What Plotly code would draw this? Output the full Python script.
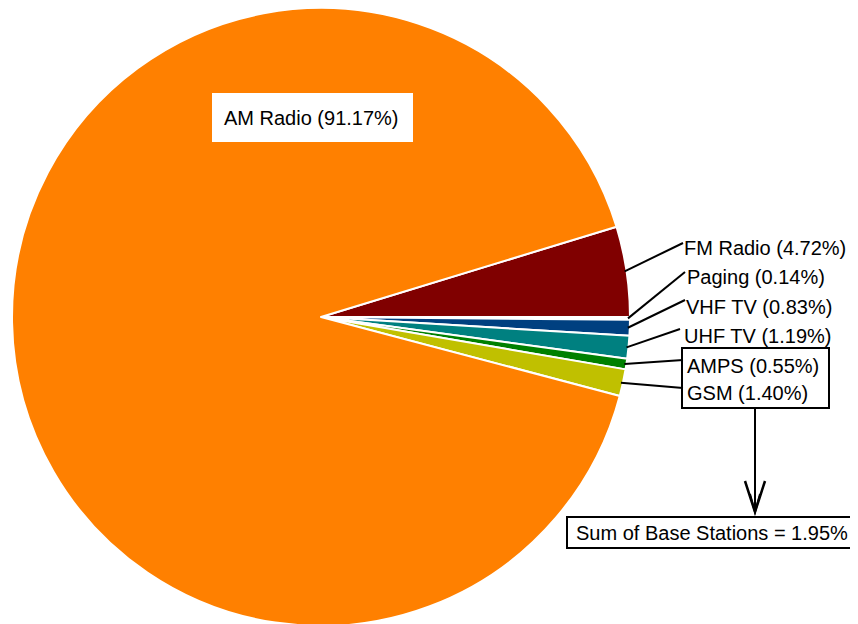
import math
import plotly.graph_objects as go

# ---- data ----
labels = ["FM Radio", "Paging", "VHF TV", "UHF TV", "AMPS", "GSM", "AM Radio"]
shares = [4.72, 0.14, 0.83, 1.19, 0.55, 1.40, 91.17]
colors = ["#800000", "#FFFFFF", "#004080", "#008080", "#008000", "#C0C000", "#FF8000"]
sum_text = "Sum of Base Stations = 1.95%"

W, H = 858, 624
OFF = 8  # page body margin
FONT = "Liberation Sans, Arial, Helvetica, sans-serif"

def px(x):
    return (x - OFF) / W

def py(y):
    return 1 - (y - OFF) / H

# pie geometry (screen pixels)
dom_x0, dom_x1 = 12, 630
dom_y0, dom_y1 = 8, 626
cx = (dom_x0 + dom_x1) / 2
cy = (dom_y0 + dom_y1) / 2
R = min(dom_x1 - dom_x0, dom_y1 - dom_y0) / 2

total = sum(shares)
start_deg = 360 * shares[0] / total  # FM Radio ends exactly at 3 o'clock
rotation = 90 - start_deg

fig = go.Figure(go.Pie(
    labels=labels,
    values=shares,
    sort=False,
    direction="clockwise",
    rotation=rotation,
    marker=dict(colors=colors, line=dict(color="white", width=2)),
    textinfo="none",
    hoverinfo="label+percent",
    showlegend=False,
    domain=dict(x=[px(dom_x0), px(dom_x1)], y=[max(0, py(dom_y1)), py(dom_y0)]),
))

shapes = []
annotations = []

# AM Radio label box
shapes.append(dict(type="rect", xref="paper", yref="paper",
                   x0=px(212), x1=px(413), y0=py(142), y1=py(93),
                   fillcolor="white", line=dict(width=0)))
annotations.append(dict(xref="paper", yref="paper", x=px(311), y=py(118),
                        text=f"{labels[-1]} ({shares[-1]:.2f}%)", showarrow=False,
                        xanchor="center", yanchor="middle",
                        font=dict(family=FONT, size=20, color="black")))

# small slice labels with leader lines
label_pos = [(684, 248), (687, 277), (686, 307), (684, 336), (687, 366), (687, 393)]
leader_end = [(683, 243), (685, 272), (685, 300), (680, 329), (683, 360), (683, 388)]
cum = 0.0
for i in range(6):
    v = shares[i]
    mid = start_deg - 360 * (cum + v / 2) / total
    cum += v
    sx = cx + R * math.cos(math.radians(mid))
    sy = cy - R * math.sin(math.radians(mid))
    ex, ey = leader_end[i]
    shapes.append(dict(type="line", xref="paper", yref="paper",
                       x0=px(sx - 2), y0=py(sy), x1=px(ex), y1=py(ey),
                       line=dict(color="black", width=2)))
    lx, ly = label_pos[i]
    annotations.append(dict(xref="paper", yref="paper", x=px(lx - 2), y=py(ly),
                            text=f"{labels[i]} ({v:.2f}%)", showarrow=False,
                            xanchor="left", yanchor="middle",
                            font=dict(family=FONT, size=20, color="black")))

# box around base-station labels
shapes.append(dict(type="rect", xref="paper", yref="paper",
                   x0=px(682), x1=px(829), y0=py(408), y1=py(348),
                   line=dict(color="black", width=2)))
# arrow down to the sum box
shapes.append(dict(type="line", xref="paper", yref="paper",
                   x0=px(755), y0=py(408), x1=px(755), y1=py(512),
                   line=dict(color="black", width=2)))
shapes.append(dict(type="path", xref="paper", yref="paper",
                   path=f"M {px(745)},{py(481)} L {px(755)},{py(512)} L {px(765)},{py(481)}",
                   line=dict(color="black", width=2.5)))
shapes.append(dict(type="path", xref="paper", yref="paper",
                   path=f"M {px(750)},{py(494)} L {px(755)},{py(512)} L {px(760)},{py(494)}",
                   line=dict(color="black", width=2)))
# sum box
shapes.append(dict(type="rect", xref="paper", yref="paper",
                   x0=px(567), x1=px(857), y0=py(548), y1=py(517),
                   fillcolor="white", line=dict(color="black", width=2)))
annotations.append(dict(xref="paper", yref="paper", x=px(712), y=py(533),
                        text=sum_text, showarrow=False,
                        xanchor="center", yanchor="middle",
                        font=dict(family=FONT, size=20, color="black")))

fig.update_layout(
    width=W, height=H,
    margin=dict(l=0, r=0, t=0, b=0),
    paper_bgcolor="white",
    plot_bgcolor="white",
    shapes=shapes,
    annotations=annotations,
)

fig.write_html("out.html")
